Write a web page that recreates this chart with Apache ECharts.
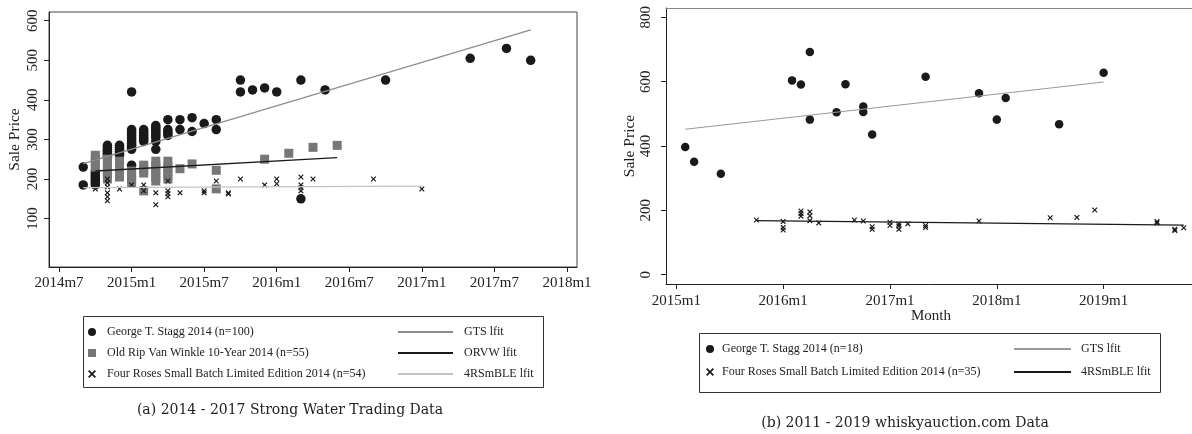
<!DOCTYPE html>
<html>
<head>
<meta charset="utf-8">
<script src="https://cdn.jsdelivr.net/npm/echarts@6/dist/echarts.min.js"></script>
<style>
html, body { margin: 0; padding: 0; background: #fff; }
#left { position: absolute; left: 0; top: 0; width: 596px; height: 434px; }
#right { position: absolute; left: 596px; top: 0; width: 596px; height: 434px; }
</style>
</head>
<body>
<div id="left"></div>
<div id="right"></div>
<script>
// ---- panel (a): Strong Water Trading, [month, price]
var gtsA = [
  ['2014m9', 185], ['2014m9', 230],
  ['2014m10', 185], ['2014m10', 190], ['2014m10', 195], ['2014m10', 200], ['2014m10', 205], ['2014m10', 210], ['2014m10', 215], ['2014m10', 220],
  ['2014m11', 255], ['2014m11', 260], ['2014m11', 265], ['2014m11', 270], ['2014m11', 275], ['2014m11', 280], ['2014m11', 285],
  ['2014m12', 260], ['2014m12', 265], ['2014m12', 270], ['2014m12', 275], ['2014m12', 280], ['2014m12', 285],
  ['2015m1', 420], ['2015m1', 325], ['2015m1', 320], ['2015m1', 315], ['2015m1', 310], ['2015m1', 305], ['2015m1', 300], ['2015m1', 295], ['2015m1', 290], ['2015m1', 285], ['2015m1', 280], ['2015m1', 275], ['2015m1', 235],
  ['2015m2', 295], ['2015m2', 300], ['2015m2', 305], ['2015m2', 310], ['2015m2', 315], ['2015m2', 320], ['2015m2', 325],
  ['2015m3', 275], ['2015m3', 295], ['2015m3', 305], ['2015m3', 310], ['2015m3', 315], ['2015m3', 320], ['2015m3', 325], ['2015m3', 330], ['2015m3', 335],
  ['2015m4', 350], ['2015m4', 325], ['2015m4', 320], ['2015m4', 315], ['2015m4', 310],
  ['2015m5', 350], ['2015m5', 325],
  ['2015m6', 355], ['2015m6', 320],
  ['2015m7', 340],
  ['2015m8', 350], ['2015m8', 325],
  ['2015m10', 450], ['2015m10', 420],
  ['2015m11', 425], ['2015m12', 430], ['2016m1', 420],
  ['2016m3', 450], ['2016m3', 150],
  ['2016m5', 425], ['2016m10', 450],
  ['2017m5', 505], ['2017m8', 530], ['2017m10', 500]
];
var orvwA = [
  ['2014m10', 230], ['2014m10', 240], ['2014m10', 250], ['2014m10', 260],
  ['2014m11', 200], ['2014m11', 210], ['2014m11', 220], ['2014m11', 230], ['2014m11', 240], ['2014m11', 250],
  ['2014m12', 205], ['2014m12', 215], ['2014m12', 225], ['2014m12', 235], ['2014m12', 245],
  ['2015m1', 190], ['2015m1', 200], ['2015m1', 210], ['2015m1', 220],
  ['2015m2', 170], ['2015m2', 215], ['2015m2', 225], ['2015m2', 235],
  ['2015m3', 195], ['2015m3', 205], ['2015m3', 215], ['2015m3', 225], ['2015m3', 235], ['2015m3', 245],
  ['2015m4', 200], ['2015m4', 210], ['2015m4', 220], ['2015m4', 230], ['2015m4', 245],
  ['2015m5', 226], ['2015m6', 238],
  ['2015m8', 175], ['2015m8', 222],
  ['2015m12', 250], ['2016m2', 265], ['2016m4', 280], ['2016m6', 285]
];
var frA = [
  ['2014m10', 175],
  ['2014m11', 200], ['2014m11', 190], ['2014m11', 180], ['2014m11', 165], ['2014m11', 155], ['2014m11', 145],
  ['2014m12', 175], ['2015m1', 185],
  ['2015m2', 185], ['2015m2', 170],
  ['2015m3', 165], ['2015m3', 135],
  ['2015m4', 195], ['2015m4', 170], ['2015m4', 163], ['2015m4', 155],
  ['2015m5', 165],
  ['2015m7', 170], ['2015m7', 165],
  ['2015m8', 195],
  ['2015m9', 165], ['2015m9', 162],
  ['2015m10', 200], ['2015m12', 185],
  ['2016m1', 200], ['2016m1', 188],
  ['2016m3', 205], ['2016m3', 185], ['2016m3', 178], ['2016m3', 170],
  ['2016m4', 200], ['2016m9', 200], ['2017m1', 175]
];
// fitted lines, endpoints
var gtsFitA = [['2014m9', 239], ['2017m10', 577]];
var orvwFitA = [['2014m10', 220], ['2016m6', 254]];
var frFitA = [['2014m9', 178], ['2017m1', 182]];
var xTicksA = ['2014m7', '2015m1', '2015m7', '2016m1', '2016m7', '2017m1', '2017m7', '2018m1'];
var yTicksA = [100, 200, 300, 400, 500, 600];

// ---- panel (b): whiskyauction.com
var gtsB = [
  ['2015m2', 397], ['2015m3', 351], ['2015m6', 314],
  ['2016m2', 604], ['2016m3', 591], ['2016m4', 692], ['2016m4', 482],
  ['2016m7', 505], ['2016m8', 592], ['2016m10', 523], ['2016m10', 506], ['2016m11', 436],
  ['2017m5', 615], ['2017m11', 564], ['2018m1', 482], ['2018m2', 549], ['2018m8', 468], ['2019m1', 628]
];
var frB = [
  ['2015m10', 170],
  ['2016m1', 165], ['2016m1', 147], ['2016m1', 139],
  ['2016m3', 198], ['2016m3', 190], ['2016m3', 182],
  ['2016m4', 195], ['2016m4', 183], ['2016m4', 168],
  ['2016m5', 161], ['2016m9', 170], ['2016m10', 167],
  ['2016m11', 149], ['2016m11', 141],
  ['2017m1', 163], ['2017m1', 153],
  ['2017m2', 157], ['2017m2', 151], ['2017m2', 141],
  ['2017m3', 158],
  ['2017m5', 153], ['2017m5', 147],
  ['2017m11', 167], ['2018m7', 177], ['2018m10', 178], ['2018m12', 201],
  ['2019m7', 165], ['2019m7', 161],
  ['2019m9', 141], ['2019m9', 137], ['2019m10', 146]
];
var gtsFitB = [['2015m2', 452], ['2019m1', 599]];
var frFitB = [['2015m10', 168], ['2019m10', 154]];
var xTicksB = ['2015m1', '2016m1', '2017m1', '2018m1', '2019m1'];
var yTicksB = [0, 200, 400, 600, 800];

// 'YYYYmM' -> month count
function mon(s) {
  var p = s.split('m');
  return (+p[0]) * 12 + (+p[1]) - 1;
}
function monLabel(v) {
  v = Math.round(v);
  return Math.floor(v / 12) + 'm' + (v % 12 + 1);
}
function pts(arr) {
  return arr.map(function (d) { return [mon(d[0]), d[1]]; });
}

var serif = 'Liberation Serif';
var ink = '#222';
var crossPath = 'path://M0,1.5L1.5,0L5,3.5L8.5,0L10,1.5L6.5,5L10,8.5L8.5,10L5,6.5L1.5,10L0,8.5L3.5,5Z';

function xAxisOpt(ticks, min, max, margin, name, gap) {
  var vals = ticks.map(mon);
  return {
    type: 'value', min: min, max: max,
    name: name || '', nameLocation: 'middle', nameGap: gap || 18, nameMoveOverlap: false,
    nameTextStyle: { fontFamily: serif, fontSize: 15, color: ink },
    axisLine: { show: true, onZero: false, lineStyle: { color: ink, width: 1 } },
    axisTick: { show: true, length: 5, customValues: vals, lineStyle: { color: ink } },
    axisLabel: { customValues: vals, formatter: monLabel, fontFamily: serif, fontSize: 15, color: ink, margin: margin },
    splitLine: { show: false }
  };
}
function yAxisOpt(ticks, min, max, margin, gap) {
  return {
    type: 'value', min: min, max: max,
    name: 'Sale Price', nameLocation: 'middle', nameGap: gap, nameMoveOverlap: false,
    nameTextStyle: { fontFamily: serif, fontSize: 15.5, color: ink },
    axisLine: { show: true, onZero: false, lineStyle: { color: ink, width: 1 } },
    axisTick: { show: true, length: 5, customValues: ticks, lineStyle: { color: ink } },
    axisLabel: { customValues: ticks, rotate: 90, fontFamily: serif, fontSize: 15, color: ink, margin: margin },
    splitLine: { show: false }
  };
}
function scatter(name, data, symbol, size, color) {
  return { name: name, type: 'scatter', data: pts(data), symbol: symbol, symbolSize: size,
    itemStyle: { color: color, opacity: 1 }, z: 2 };
}
function fit(name, data, color, width) {
  return { name: name, type: 'line', data: pts(data), symbol: 'none', showSymbol: false,
    lineStyle: { color: color, width: width }, itemStyle: { color: color }, z: 3 };
}
function legendOpt(names, left, top, gap, iconW, iconH, textPad, isLine) {
  var opt = {
    data: names, orient: 'vertical', left: left, top: top, itemGap: gap, padding: 0,
    itemWidth: iconW, itemHeight: iconH, selectedMode: false,
    textStyle: { fontFamily: serif, fontSize: 12, color: ink, lineHeight: 14, padding: [0, 0, 0, textPad] }
  };
  if (isLine) opt.itemStyle = { opacity: 0 };
  return opt;
}
function box(x, y, w, h) {
  return { type: 'rect', shape: { x: x + 0.5, y: y + 0.5, width: w, height: h },
    style: { fill: 'none', stroke: '#333', lineWidth: 1 }, silent: true };
}
function caption(text, x, y) {
  return { type: 'text', x: x, y: y,
    style: { text: text, fontFamily: 'DejaVu Serif', fontSize: 14, fill: ink, align: 'center', verticalAlign: 'middle' } };
}

var chartA = echarts.init(document.getElementById('left'));
chartA.setOption({
  animation: false,
  grid: { left: 49, top: 12, width: 528, height: 255, outerBoundsMode: 'none',
    show: true, borderColor: '#444', borderWidth: 1 },
  xAxis: xAxisOpt(xTicksA, mon('2014m7') - 0.83, mon('2018m1') + 0.83, 9),
  yAxis: yAxisOpt(yTicksA, -22.4, 622, 8, 26),
  legend: [
    legendOpt(['George T. Stagg 2014 (n=100)', 'Old Rip Van Winkle 10-Year 2014 (n=55)',
      'Four Roses Small Batch Limited Edition 2014 (n=54)'], 88, 325, 7, 8, 8, 6, false),
    legendOpt(['GTS lfit', 'ORVW lfit', '4RSmBLE lfit'], 397, 325, 7, 55, 8, 6, true)
  ],
  graphic: [
    box(83, 316, 460, 71),
    caption('(a) 2014 - 2017 Strong Water Trading Data', 290, 410)
  ],
  series: [
    scatter('George T. Stagg 2014 (n=100)', gtsA, 'circle', 9.5, '#1a1a1a'),
    scatter('Old Rip Van Winkle 10-Year 2014 (n=55)', orvwA, 'rect', 9, '#777777'),
    scatter('Four Roses Small Batch Limited Edition 2014 (n=54)', frA, crossPath, 5.5, '#1a1a1a'),
    fit('GTS lfit', gtsFitA, '#8c8c8c', 1.2),
    fit('ORVW lfit', orvwFitA, '#1a1a1a', 1.5),
    fit('4RSmBLE lfit', frFitA, '#c4c4c4', 1.2)
  ]
});

// right panel: frame cut at the right edge, so only a top line, no full box
var minB = mon('2015m1') - 1.16;
var maxB = minB + 530 / 8.902;
var topB = {
  type: 'value', position: 'top', min: minB, max: maxB,
  axisLine: { show: true, onZero: false, lineStyle: { color: '#888', width: 1.2 } },
  axisTick: { show: false }, axisLabel: { show: false }, splitLine: { show: false }
};
var chartB = echarts.init(document.getElementById('right'));
chartB.setOption({
  animation: false,
  grid: { left: 70, top: 8, width: 530, height: 276, outerBoundsMode: 'none' },
  xAxis: [xAxisOpt(xTicksB, minB, maxB, 10, 'Month', 25), topB],
  yAxis: yAxisOpt(yTicksB, -29, 829, 12, 28),
  legend: [
    legendOpt(['George T. Stagg 2014 (n=18)', 'Four Roses Small Batch Limited Edition 2014 (n=35)'], 110, 342, 9, 8, 8, 3, false),
    legendOpt(['GTS lfit', '4RSmBLE lfit'], 417, 342, 9, 57, 8, 5, true)
  ],
  graphic: [
    box(103, 333, 461, 59),
    caption('(b) 2011 - 2019 whiskyauction.com Data', 309, 423)
  ],
  series: [
    scatter('George T. Stagg 2014 (n=18)', gtsB, 'circle', 8.5, '#1a1a1a'),
    scatter('Four Roses Small Batch Limited Edition 2014 (n=35)', frB, crossPath, 5.5, '#1a1a1a'),
    fit('GTS lfit', gtsFitB, '#9a9a9a', 1.2),
    fit('4RSmBLE lfit', frFitB, '#1a1a1a', 1.3)
  ]
});
</script>
</body>
</html>
